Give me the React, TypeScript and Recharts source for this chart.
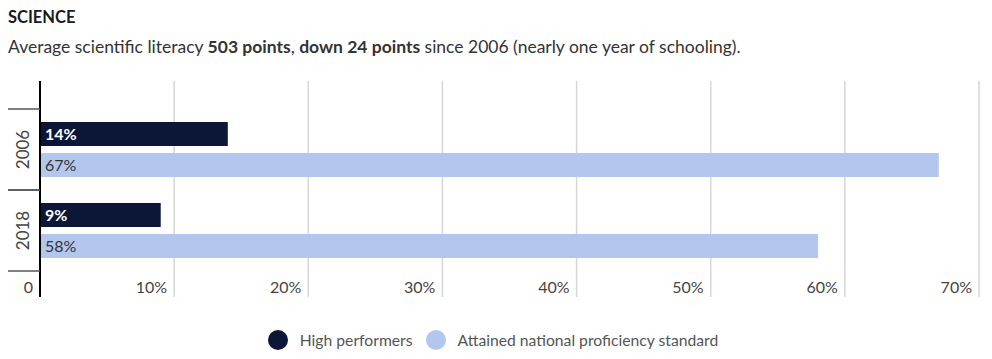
import React from 'react';
import { BarChart, Bar, XAxis, YAxis, CartesianGrid, LabelList } from 'recharts';

const years = ['2006', '2018'];
const highPerformers = [14, 9];
const attainedStandard = [67, 58];
const xTicks = [0, 10, 20, 30, 40, 50, 60, 70];
const seriesNames = ['High performers', 'Attained national proficiency standard'];
const seriesColors = ['#0c1636', '#b3c7ee'];

const data = years.map((year, i) => ({
  year,
  high: highPerformers[i],
  attained: attainedStandard[i],
}));

const FONT = 'Lato, "Noto Sans", sans-serif';

const XTick = (props: any) => {
  const { x, y, payload } = props;
  const label = payload.value === 0 ? '0' : `${payload.value}%`;
  return (
    <g>
      <text x={x - 7} y={y - 4} textAnchor="end" fontSize={16} fill="#444" fontFamily={FONT}>
        {label}
      </text>
    </g>
  );
};

const YTick = (props: any) => {
  const { x, y, payload } = props;
  const half = payload.offset || 40.5;
  return (
    <g>
      <line x1={0} x2={x} y1={y - half} y2={y - half} stroke="#555" strokeWidth={1.5} />
      <line x1={0} x2={x} y1={y + half} y2={y + half} stroke="#555" strokeWidth={1.5} />
      <text
        x={14}
        y={y}
        transform={`rotate(-90, 14, ${y})`}
        textAnchor="middle"
        dominantBaseline="central"
        fontSize={17}
        fill="#444"
        fontFamily={FONT}
      >
        {payload.value}
      </text>
    </g>
  );
};

export default function App() {
  return (
    <div style={{ position: 'relative', width: 976, height: 343, fontFamily: FONT }}>
      <div style={{ position: 'absolute', left: 0, top: 0, fontSize: 16.5, fontWeight: 700, color: '#1a1a1a', lineHeight: '18px' }}>
        SCIENCE
      </div>
      <div style={{ position: 'absolute', left: 0, top: 29, fontSize: 17.5, color: '#333', lineHeight: '20px', whiteSpace: 'nowrap' }}>
        Average scientific literacy <b>503 points</b>, <b>down 24 points</b> since 2006 (nearly one year of schooling).
      </div>
      <div style={{ position: 'absolute', left: 0, top: 0 }}>
        <BarChart
          width={976}
          height={300}
          data={data}
          layout="vertical"
          margin={{ top: 73, right: 5, left: 0, bottom: 0 }}
          barSize={24}
          barGap={7}
        >
          <CartesianGrid horizontal={false} stroke="#d6d6d6" strokeWidth={1.5} />
          <XAxis
            type="number"
            domain={[0, 70]}
            ticks={xTicks}
            axisLine={false}
            tickLine={false}
            tickSize={0}
            tickMargin={0}
            height={11}
            tick={<XTick />}
            interval={0}
          />
          <YAxis
            type="category"
            dataKey="year"
            width={32}
            axisLine={{ stroke: '#000', strokeWidth: 2 }}
            tickLine={false}
            tickSize={0}
            tickMargin={0}
            padding={{ top: 28, bottom: 26 }}
            tick={<YTick />}
          />
          <Bar dataKey="high" fill={seriesColors[0]} isAnimationActive={false}>
            <LabelList
              dataKey="high"
              position="insideLeft"
              offset={5}
              formatter={(v: any) => `${v}%`}
              style={{ fill: '#fff', fontWeight: 700, fontSize: 16, fontFamily: FONT }}
            />
          </Bar>
          <Bar dataKey="attained" fill={seriesColors[1]} isAnimationActive={false}>
            <LabelList
              dataKey="attained"
              position="insideLeft"
              offset={5}
              formatter={(v: any) => `${v}%`}
              style={{ fill: '#333', fontSize: 16, fontFamily: FONT }}
            />
          </Bar>
        </BarChart>
      </div>
      <div
        style={{
          position: 'absolute',
          left: -3,
          top: 322,
          width: 976,
          display: 'flex',
          justifyContent: 'center',
          alignItems: 'center',
          gap: 13,
          fontSize: 15.7,
          color: '#555',
        }}
      >
        {seriesNames.map((name, i) => (
          <div key={name} style={{ display: 'flex', alignItems: 'center', gap: 12 }}>
            <svg width={20} height={20}>
              <circle cx={10} cy={10} r={10} fill={seriesColors[i]} />
            </svg>
            <span>{name}</span>
          </div>
        ))}
      </div>
    </div>
  );
}
